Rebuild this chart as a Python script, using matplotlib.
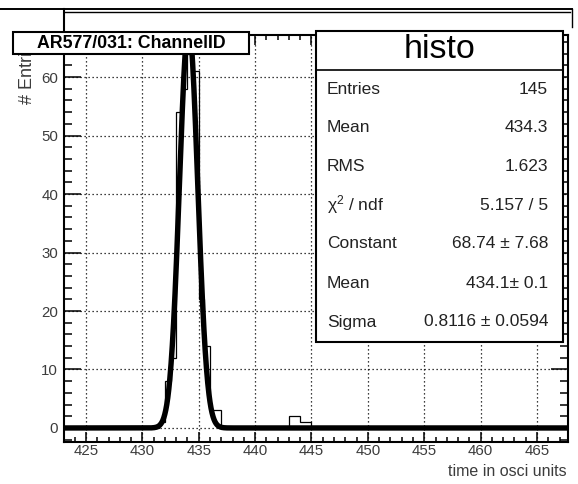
import numpy as np
import matplotlib
matplotlib.use("Agg")
import matplotlib.pyplot as plt
from matplotlib.patches import Rectangle
from matplotlib.lines import Line2D
from matplotlib.ticker import MultipleLocator

plt.rcParams['font.family'] = ['Liberation Sans', 'DejaVu Sans']
plt.rcParams['mathtext.fontset'] = 'custom'
plt.rcParams['mathtext.rm'] = 'Liberation Sans'
plt.rcParams['mathtext.it'] = 'Liberation Sans:italic'
plt.rcParams['mathtext.bf'] = 'Liberation Sans:bold'

# ---- data ----
bin_width = 0.5
bin_left = [431.5, 432.0, 432.5, 433.0, 433.5, 434.0, 434.5, 435.0, 435.5,
            436.0, 436.5, 443.0, 443.5, 444.0, 444.5]
bin_counts = [1, 8, 12, 54, 58, 64, 61, 22, 14, 3, 3, 2, 2, 1, 1]

fit_constant = 68.74
fit_mean = 434.1
fit_sigma = 0.8116

x_ticks = [425, 430, 435, 440, 445, 450, 455, 460, 465]
y_ticks = [0, 10, 20, 30, 40, 50, 60]

title_text = "AR577/031: ChannelID"
stats_title = "histo"
stats_labels = ["Entries", "Mean", "RMS", r"$\mathrm{\chi}^{2}$ / ndf",
                "Constant", "Mean", "Sigma"]
stats_values = ["145", "434.3", "1.623", "5.157 / 5",
                "68.74 \u00b1 7.68", "434.1\u00b1 0.1", "0.8116 \u00b1 0.0594"]

# ---- figure ----
W, H = 578, 484
fig = plt.figure(figsize=(W / 100, H / 100), dpi=100)
fig.patch.set_facecolor('white')

def fx(px):
    return px / W

def fy(py):
    return 1 - py / H

L, R, T, B = 64, 568, 35, 442
ax = fig.add_axes([fx(L), fy(B), (R - L) / W, (B - T) / H])
ax.set_xlim(423.05, 467.75)
ax.set_ylim(-2.4, 67.2)

# histogram as outline
edges = np.arange(423.0, 468.0 + bin_width / 2, bin_width)
counts = np.zeros(len(edges) - 1)
for lo, c in zip(bin_left, bin_counts):
    idx = int(round((lo - edges[0]) / bin_width))
    counts[idx] = c
ax.stairs(counts, edges, color='black', linewidth=0.9, zorder=3)

# fitted gaussian
xf = np.linspace(423.05, 467.6, 2000)
yf = fit_constant * np.exp(-0.5 * ((xf - fit_mean) / fit_sigma) ** 2)
ax.plot(xf, yf, color='black', linewidth=3.9, zorder=4, solid_joinstyle='miter')

# axes styling
ax.set_xticks(x_ticks)
ax.set_yticks(y_ticks)
ax.xaxis.set_minor_locator(MultipleLocator(1))
ax.yaxis.set_minor_locator(MultipleLocator(2))
ax.tick_params(axis='both', which='both', direction='in', top=True, right=True,
               colors='black', labelcolor='#3c3c3c', width=1.1)
ax.tick_params(axis='x', which='major', length=7.5, pad=1.5, labelsize=10.8)
ax.tick_params(axis='x', which='minor', length=3.8)
ax.tick_params(axis='y', which='major', length=12, pad=4.3, labelsize=10.8)
ax.tick_params(axis='y', which='minor', length=5.8)
for s in ax.spines.values():
    s.set_linewidth(1.5)
ax.grid(True, which='major', color='black', linestyle=(0, (1, 2.2)), linewidth=0.9)
ax.set_axisbelow(True)

# axis titles
fig.text(fx(567), fy(471), "time in osci units", ha='right', va='center',
         fontsize=11.5, color='#3c3c3c')
fig.text(fx(27), fy(104), "# Entries", rotation=90, ha='center', va='bottom',
         fontsize=13, color='#3c3c3c', zorder=2)

# top decorations (frame lines above the plot)
fig.add_artist(Line2D([fx(0), fx(572)], [fy(9), fy(9)], color='black', lw=1.4, zorder=5))
fig.add_artist(Line2D([fx(572), fx(572)], [fy(9), fy(27)], color='black', lw=1.0, zorder=5))
fig.add_artist(Line2D([fx(64), fx(570)], [fy(12), fy(12)], color='black', lw=1.0, zorder=5))
fig.add_artist(Line2D([fx(64), fx(64)], [fy(9), fy(36)], color='black', lw=1.5, zorder=5))

# title box
fig.add_artist(Rectangle((fx(13), fy(54)), fx(249) - fx(13), fy(32) - fy(54),
                         transform=fig.transFigure, facecolor='white',
                         edgecolor='black', linewidth=1.5, zorder=6))
fig.text(fx(131), fy(43.5), title_text, ha='center', va='center',
         fontsize=12.8, fontweight='bold', color='black', zorder=7)

# stats box
bx0, by0, bx1, by1 = 316, 31, 563, 342
fig.add_artist(Rectangle((fx(bx0), fy(by1)), fx(bx1) - fx(bx0), fy(by0) - fy(by1),
                         transform=fig.transFigure, facecolor='white',
                         edgecolor='black', linewidth=1.5, zorder=6))
fig.add_artist(Line2D([fx(bx0), fx(bx1)], [fy(70), fy(70)], color='black', lw=1.2, zorder=7))
fig.text(fx((bx0 + bx1) / 2), fy(50), stats_title, ha='center', va='center',
         fontsize=24.5, color='black', zorder=7)
row_y = [89, 128, 166, 205, 243, 283, 322]
for yy, lab, val in zip(row_y, stats_labels, stats_values):
    fig.text(fx(327), fy(yy), lab, ha='left', va='center', fontsize=12.5,
             color='#222222', zorder=7)
    fig.text(fx(548), fy(yy), val, ha='right', va='center', fontsize=12.5,
             color='#222222', zorder=7)

fig.savefig("out.png", dpi=100)
